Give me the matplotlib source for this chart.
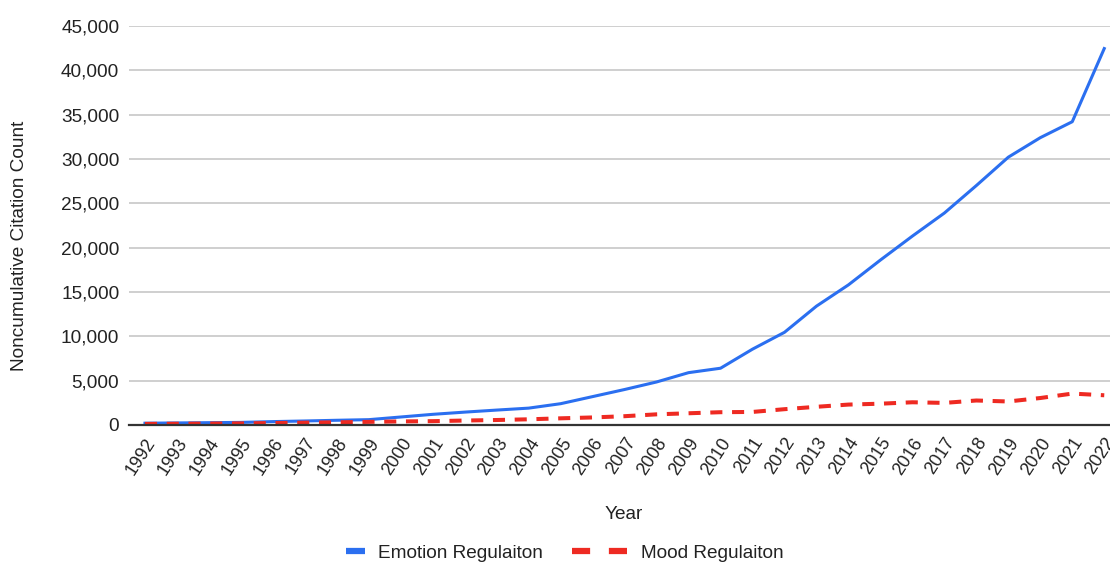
import matplotlib
matplotlib.use("Agg")
import matplotlib.pyplot as plt
from matplotlib.lines import Line2D
from matplotlib.ticker import FuncFormatter, MultipleLocator

plt.rcParams['font.family'] = ['Liberation Sans', 'DejaVu Sans']

years = list(range(1992, 2023))
emotion_regulation = [200, 230, 260, 290, 380, 450, 530, 600, 900, 1200,
                      1450, 1680, 1900, 2400, 3200, 4000, 4850, 5900, 6400, 8550,
                      10450, 13400, 15800, 18600, 21300, 23900, 27000, 30200, 32400, 34200,
                      42450]
mood_regulation = [120, 140, 160, 180, 220, 260, 300, 350, 400, 430,
                   500, 560, 640, 750, 850, 990, 1200, 1320, 1440, 1470,
                   1780, 2050, 2300, 2400, 2560, 2490, 2760, 2650, 3040, 3540,
                   3350]

BLUE = '#2b6ff0'
RED = '#ee2a22'
TEXT = '#222222'
FS = 13.7

fig = plt.figure(figsize=(11.1, 5.64), dpi=100)
ax = fig.add_axes([0.1162, 0.2465, 0.8838, 0.7075])

ax.plot(years, emotion_regulation, color=BLUE, lw=2.2,
        solid_joinstyle='round', zorder=3)
ax.plot(years, mood_regulation, color=RED, lw=2.9, dashes=(3.0, 2.4), zorder=3)

ax.set_xlim(1991.5, 2022.18)
ax.set_ylim(0, 45000)
ax.yaxis.set_major_locator(MultipleLocator(5000))
ax.yaxis.set_major_formatter(FuncFormatter(lambda v, p: f"{int(v):,}"))
ax.set_xticks(years)
ax.set_xticklabels([str(y) for y in years], rotation=57, ha='right',
                   rotation_mode='anchor', fontsize=13)
ax.tick_params(axis='y', labelsize=FS, length=0, pad=7, labelcolor=TEXT)
ax.tick_params(axis='x', length=0, pad=7, labelcolor=TEXT)

ax.grid(axis='y', color='#cccccc', lw=1.3)
ax.set_axisbelow(True)
for s in ['top', 'right', 'left']:
    ax.spines[s].set_visible(False)
ax.spines['bottom'].set_color('#333333')
ax.spines['bottom'].set_linewidth(1.6)
ax.spines['bottom'].set_zorder(4)

fig.text(0.0175, 0.564, 'Noncumulative Citation Count', rotation=90,
         ha='center', va='center', fontsize=FS, color=TEXT)
fig.text(0.562, 0.087, 'Year', ha='center', va='center', fontsize=FS,
         color=TEXT)

# legend: short solid key for the first series, two-dash key for the second
h_emotion = Line2D([], [], color=BLUE, lw=4.5, solid_capstyle='butt')
h_mood = Line2D([], [], color=RED, lw=4.5, dashes=(2.9, 3.0),
                dash_capstyle='butt')
leg1 = fig.legend([h_emotion], ['Emotion Regulaiton'], loc='center left',
                  bbox_to_anchor=(346 / 1110, 0.0195), frameon=False,
                  fontsize=FS, handlelength=1.0, handletextpad=0.68,
                  borderpad=0, borderaxespad=0)
leg2 = fig.legend([h_mood], ['Mood Regulaiton'], loc='center left',
                  bbox_to_anchor=(572 / 1110, 0.0195), frameon=False,
                  fontsize=FS, handlelength=2.9, handletextpad=0.72,
                  borderpad=0, borderaxespad=0)
for leg in (leg1, leg2):
    for t in leg.get_texts():
        t.set_color(TEXT)

fig.savefig('out.png', dpi=100)
